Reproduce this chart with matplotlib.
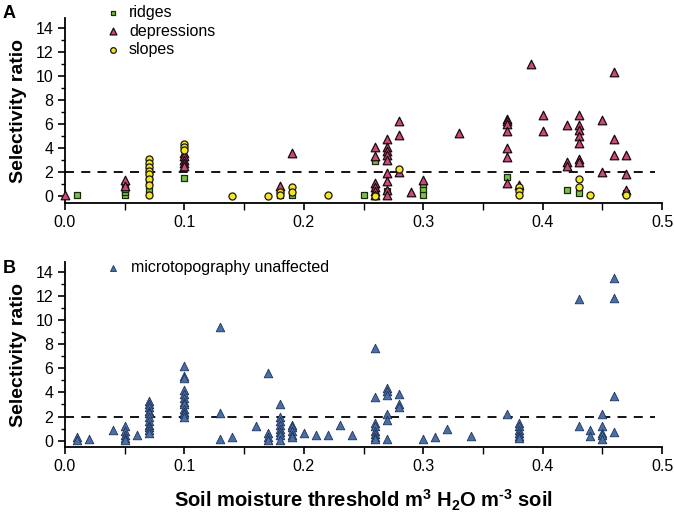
import numpy as np
import matplotlib.pyplot as plt
from matplotlib.ticker import MultipleLocator

plt.rcParams['font.family'] = ['Liberation Sans', 'DejaVu Sans']
plt.rcParams['mathtext.fontset'] = 'custom'
plt.rcParams['mathtext.rm'] = 'Liberation Sans:bold'
plt.rcParams['mathtext.bf'] = 'Liberation Sans:bold'

# panel A data (soil moisture threshold, selectivity ratio)
ridges_x = [0.01, 0.05, 0.05, 0.05, 0.05, 0.07, 0.07, 0.07, 0.07, 0.07, 0.10,
            0.18, 0.19, 0.25, 0.26, 0.26, 0.26, 0.27, 0.30, 0.30, 0.30,
            0.37, 0.42, 0.43, 0.47]
ridges_y = [0.1, 0.1, 0.3, 0.6, 0.9, 2.5, 2.0, 1.6, 1.2, 0.5, 1.5,
            0.1, 0.1, 0.1, 2.9, 0.5, 0.2, 0.4, 0.9, 0.5, 0.1,
            1.6, 0.5, 0.2, 0.2]

depr_x = [0.0, 0.05, 0.05, 0.10, 0.10, 0.10, 0.10, 0.10, 0.18, 0.19,
          0.26, 0.26, 0.26, 0.26, 0.26, 0.26,
          0.27, 0.27, 0.27, 0.27, 0.27, 0.27, 0.27, 0.27, 0.27,
          0.28, 0.28, 0.28, 0.29, 0.30, 0.33,
          0.37, 0.37, 0.37, 0.37, 0.37, 0.37, 0.37, 0.38, 0.39, 0.40, 0.40,
          0.42, 0.42, 0.42, 0.43, 0.43, 0.43, 0.43, 0.43, 0.43, 0.43,
          0.45, 0.45, 0.46, 0.46, 0.46, 0.47, 0.47, 0.47]
depr_y = [0.1, 1.3, 0.8, 3.6, 3.3, 3.0, 2.7, 2.5, 0.8, 3.6,
          4.1, 3.3, 1.1, 0.7, 0.4, 0.1,
          4.7, 4.1, 3.7, 3.4, 3.0, 1.9, 1.2, 0.5, 0.1,
          6.2, 5.1, 2.0, 0.3, 1.3, 5.2,
          6.4, 6.2, 6.0, 5.4, 4.0, 3.2, 1.1, 0.9, 11.0, 6.7, 5.4,
          5.9, 2.8, 2.5, 6.7, 5.9, 5.5, 5.0, 4.4, 3.1, 2.8,
          6.3, 2.0, 10.3, 4.7, 3.4, 3.4, 1.8, 0.5]

slopes_x = [0.07, 0.07, 0.07, 0.07, 0.07, 0.07, 0.07, 0.07,
            0.10, 0.10, 0.10, 0.14, 0.17, 0.18, 0.18, 0.19, 0.19, 0.22,
            0.26, 0.28, 0.38, 0.38, 0.38, 0.43, 0.43, 0.44, 0.47]
slopes_y = [3.1, 2.7, 2.4, 2.1, 1.8, 1.4, 0.9, 0.1,
            4.3, 4.1, 3.8, 0.0, 0.0, 0.3, 0.1, 0.7, 0.3, 0.1,
            0.0, 2.25, 0.7, 0.4, 0.1, 1.4, 0.7, 0.1, 0.1]

# panel B data
unaff_x = [0.01, 0.01, 0.02, 0.04, 0.05, 0.05, 0.05, 0.05, 0.05, 0.06,
           0.07, 0.07, 0.07, 0.07, 0.07, 0.07, 0.07, 0.07, 0.07, 0.07, 0.07,
           0.10, 0.10, 0.10, 0.10, 0.10, 0.10, 0.10, 0.10, 0.10, 0.10, 0.10, 0.10,
           0.13, 0.13, 0.13, 0.14, 0.16, 0.17, 0.17, 0.17, 0.17,
           0.18, 0.18, 0.18, 0.18, 0.18, 0.18, 0.18, 0.18,
           0.19, 0.19, 0.19, 0.19, 0.19, 0.20, 0.21, 0.22, 0.23, 0.24,
           0.26, 0.26, 0.26, 0.26, 0.26, 0.26, 0.26, 0.26,
           0.27, 0.27, 0.27, 0.27, 0.27, 0.27, 0.28, 0.28, 0.28,
           0.30, 0.31, 0.32, 0.34, 0.37,
           0.38, 0.38, 0.38, 0.38, 0.38, 0.38,
           0.43, 0.43, 0.44, 0.44, 0.45, 0.45, 0.45, 0.45, 0.45,
           0.46, 0.46, 0.46, 0.46]
unaff_y = [0.3, 0.1, 0.15, 0.85, 1.2, 0.8, 0.5, 0.25, 0.1, 0.5,
           3.3, 3.0, 2.8, 2.5, 2.3, 2.0, 1.6, 1.3, 1.1, 0.85, 0.6,
           6.2, 5.4, 5.2, 4.2, 3.9, 3.5, 3.2, 3.0, 2.6, 2.4, 2.2, 2.0,
           9.4, 2.3, 0.15, 0.3, 1.2, 5.6, 0.6, 0.3, 0.1,
           3.0, 2.0, 1.6, 1.3, 1.0, 0.7, 0.5, 0.1,
           1.3, 1.1, 0.8, 0.5, 0.3, 0.6, 0.5, 0.5, 1.3, 0.5,
           7.7, 3.6, 1.5, 1.2, 0.8, 0.55, 0.3, 0.15,
           4.4, 4.1, 3.8, 2.2, 1.7, 0.15, 3.9, 3.0, 2.8,
           0.15, 0.3, 1.0, 0.4, 2.2,
           1.5, 1.2, 0.9, 0.6, 0.4, 0.2,
           11.7, 1.2, 0.9, 0.35, 2.2, 1.2, 0.65, 0.5, 0.15,
           13.5, 11.8, 3.7, 0.7]

threshold = 2

fig = plt.figure(figsize=(6.74, 5.22), dpi=100)
axA = fig.add_axes([0.0964, 0.611, 0.886, 0.354])
axB = fig.add_axes([0.0964, 0.143, 0.886, 0.355])


def style_axis(ax, ymin):
    ax.set_xlim(0, 0.5)
    ax.set_ylim(ymin, 14.8)
    ax.spines['top'].set_visible(False)
    ax.spines['right'].set_visible(False)
    ax.spines['left'].set_linewidth(1.3)
    ax.spines['bottom'].set_linewidth(1.3)
    ax.xaxis.set_major_locator(MultipleLocator(0.1))
    ax.xaxis.set_minor_locator(MultipleLocator(0.05))
    ax.yaxis.set_major_locator(MultipleLocator(2))
    ax.yaxis.set_minor_locator(MultipleLocator(1))
    ax.set_yticks(range(0, 15, 2))
    ax.set_xticks([0, 0.1, 0.2, 0.3, 0.4, 0.5])
    ax.set_xticklabels(['0.0', '0.1', '0.2', '0.3', '0.4', '0.5'])
    ax.tick_params(which='major', direction='out', length=5, width=1.2,
                   labelsize=11.5)
    ax.tick_params(which='minor', direction='out', length=3, width=1.0)
    ax.tick_params(axis='x', which='both', length=5)
    ax.set_ylabel('Selectivity ratio', fontsize=14, fontweight='bold',
                  labelpad=6)
    ax.plot([0, 0.494], [threshold, threshold], ls=(0, (5, 4)), color='black',
            lw=1.3, zorder=1)


style_axis(axA, -0.6)
axA.scatter(ridges_x, ridges_y, marker='s', s=20, facecolor='#7cc04a',
            edgecolor='#1a2a10', linewidth=0.9, zorder=3, label='ridges',
            clip_on=False)
axA.scatter(depr_x, depr_y, marker='^', s=38, facecolor='#c94a7c',
            edgecolor='#1a0a10', linewidth=0.9, zorder=3, label='depressions',
            clip_on=False)
axA.scatter(slopes_x, slopes_y, marker='o', s=26, facecolor='#f5e42a',
            edgecolor='#1a1a05', linewidth=0.9, zorder=4, label='slopes',
            clip_on=False)
axA.legend(loc='upper left', bbox_to_anchor=(0.035, 1.13), frameon=False,
           fontsize=11.5, handletextpad=0.0, labelspacing=0.2,
           markerscale=0.8, borderpad=0.2)

style_axis(axB, -0.55)
axB.scatter(unaff_x, unaff_y, marker='^', s=38, facecolor='#4a6fa8',
            edgecolor='#1f3358', linewidth=0.6, zorder=3,
            label='microtopography unaffected', clip_on=False)
axB.legend(loc='upper left', bbox_to_anchor=(0.035, 1.07), frameon=False,
           fontsize=11.5, handletextpad=0.1, markerscale=0.7, borderpad=0.2)
axB.set_xlabel('Soil moisture threshold m$^{\\text{3}}$ H$_{\\text{2}}$O m$^{\\text{-3}}$ soil',
               fontsize=14.5, fontweight='bold', labelpad=10)

fig.text(0.004, 0.99, 'A', fontsize=13, fontweight='bold', va='top')
fig.text(0.004, 0.502, 'B', fontsize=13, fontweight='bold', va='top')

fig.savefig('out.png', dpi=100)
